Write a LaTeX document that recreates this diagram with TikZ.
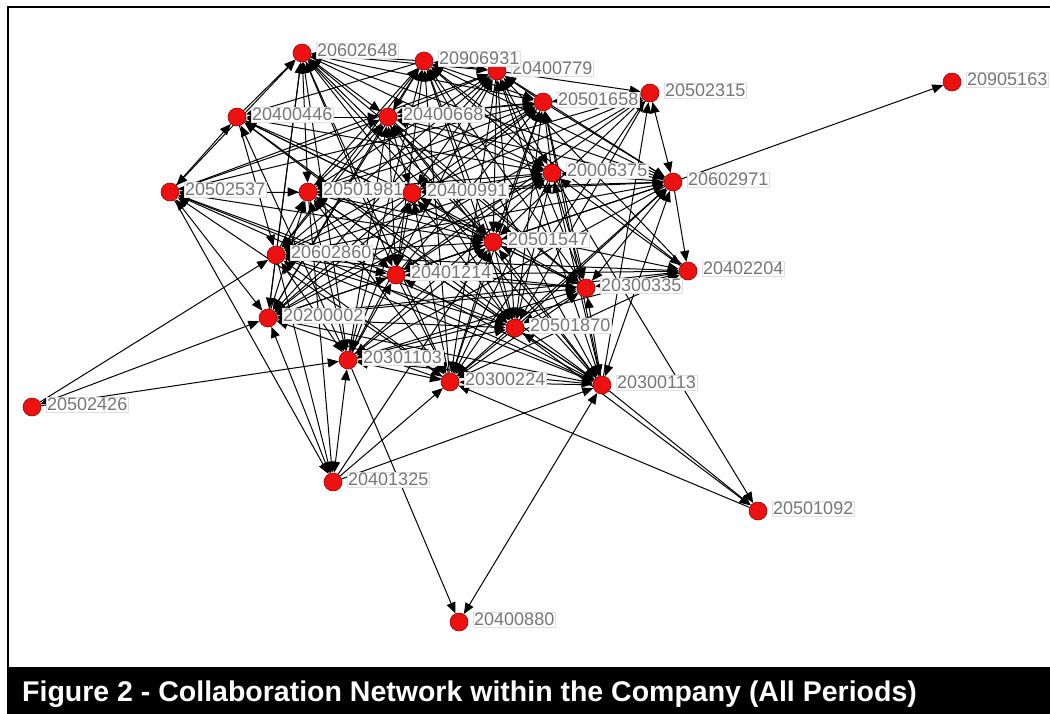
\documentclass[tikz,border=0pt]{standalone}
\usepackage{fontspec}
\setmainfont{Liberation Sans}
\usetikzlibrary{arrows.meta}
\pgfdeclarelayer{bglayer}
\pgfdeclarelayer{edgelayer}
\pgfsetlayers{bglayer,edgelayer,main}
\definecolor{nodered}{RGB}{236,18,18}
\definecolor{nodeedge}{RGB}{150,0,0}
\definecolor{labelgray}{RGB}{118,118,118}
% 1 marks the sparsely tied vertices of the core (index 0 unused)
\def\perarr{{0,0,0,0,0,1,1,0,1,0,0,0,0,0,0,0,1,0,0,0,0,0,0}}
\begin{document}
\begin{tikzpicture}[x=1pt,y=-1pt,
  >={Triangle[length=11pt,width=9pt]},
  vtx/.style={circle, fill=nodered, draw=nodeedge, line width=0.6pt,
    minimum size=18pt, inner sep=0pt},
  lbl/.style={fill=white, draw=black!12, line width=0.4pt, inner sep=1.2pt,
    text=labelgray, font=\fontsize{18}{18}\selectfont,
    label distance=4.5pt, yshift=2.5pt},
  tie/.style={draw=black, line width=1pt}]
\useasboundingbox (0,0) rectangle (1050,713);
\begin{pgfonlayer}{bglayer}
\fill[white] (0,0) rectangle (1050,713);
\end{pgfonlayer}

% frame and caption bar
\draw[line width=2.6pt] (8,713) -- (8,7) -- (1052,7);
\fill[black] (7,667) rectangle (1052,714);
\node[anchor=base west, text=white, inner sep=0pt,
  font=\fontsize{28.5}{30}\selectfont\bfseries] (cap) at (22,701)
  {Figure 2 - Collaboration Network within the Company (All Periods)};

% core vertices
\node[vtx, label={[lbl]0:20400779}] (c3) at (497,71) {};
\node[vtx, label={[lbl]0:20602648}] (c1) at (302,53) {};
\node[vtx, label={[lbl]0:20906931}] (c2) at (424,61) {};
\node[vtx, label={[lbl]0:20501658}] (c4) at (543,102) {};
\node[vtx, label={[lbl]0:20502315}] (c5) at (650,93) {};
\node[vtx, label={[lbl]0:20400446}] (c6) at (237,117) {};
\node[vtx, label={[lbl]0:20400668}] (c7) at (388,117) {};
\node[vtx, label={[lbl]0:20502537}] (c8) at (170,192) {};
\node[vtx, label={[lbl]0:20501981}] (c9) at (308,192) {};
\node[vtx, label={[lbl]0:20400991}] (c10) at (412,193) {};
\node[vtx, label={[lbl]0:20006375}] (c11) at (552,173) {};
\node[vtx, label={[lbl]0:20602971}] (c12) at (673,182) {};
\node[vtx, label={[lbl]0:20501547}] (c13) at (493,242) {};
\node[vtx, label={[lbl]0:20602860}] (c14) at (276,255) {};
\node[vtx, label={[lbl]0:20401214}] (c15) at (396,275) {};
\node[vtx, label={[lbl]0:20402204}] (c16) at (688,271) {};
\node[vtx, label={[lbl]0:20300335}] (c17) at (586,288) {};
\node[vtx, label={[lbl]0:20200002}] (c18) at (268,318) {};
\node[vtx, label={[lbl]0:20501870}] (c19) at (515,328) {};
\node[vtx, label={[lbl]0:20301103}] (c20) at (348,360) {};
\node[vtx, label={[lbl]0:20300224}] (c21) at (450,382) {};
\node[vtx, label={[lbl]0:20300113}] (c22) at (602,385) {};

% outlying vertices
\node[vtx, label={[lbl]0:20905163}] (o1) at (952,82) {};
\node[vtx, label={[lbl]0:20502426}] (o2) at (32,407) {};
\node[vtx, label={[lbl]0:20401325}] (o3) at (333,482) {};
\node[vtx, label={[lbl]0:20501092}] (o4) at (758,511) {};
\node[vtx, label={[lbl]0:20400880}] (o5) at (459,622) {};

\begin{pgfonlayer}{edgelayer}
% ties among the core vertices
\foreach \i in {1,...,21}{
  \pgfmathtruncatemacro\js{\i+1}
  \foreach \j in {\js,...,22}{
    \pgfmathtruncatemacro\pa{\perarr[\i]}
    \pgfmathtruncatemacro\pb{\perarr[\j]}
    \pgfmathtruncatemacro\ps{\pa+\pb}
    \pgfmathtruncatemacro\ma{mod(3*\i+5*\j,7)}
    \pgfmathtruncatemacro\mb{mod(\i+\j,2)}
    \pgfmathtruncatemacro\mc{mod(\i+2*\j,3)}
    \pgfmathtruncatemacro\cut{((\ma==0) && (\mb==0)) || (\ps==2) || ((\ps==1) && (\mc==0))}
    \ifnum\cut=0
      \pgfmathtruncatemacro\d{mod(7*\i+3*\j,4)}
      \ifcase\d
        \draw[tie,->] (c\i) -- (c\j);
      \or
        \draw[tie,<-] (c\i) -- (c\j);
      \else
        \draw[tie,<->] (c\i) -- (c\j);
      \fi
    \fi
  }
}
\draw[tie,->] (c8) -- (c6);
% ties to the outlying vertices
\draw[tie,->] (c12) -- (o1);
\draw[tie,->] (o2) -- (c14);
\draw[tie,<->] (o2) -- (c18);
\draw[tie,->] (o2) -- (c20);
\draw[tie,<->] (o3) -- (c18);
\draw[tie,<->] (o3) -- (c20);
\draw[tie,->] (o3) -- (c21);
\draw[tie,->] (o3) -- (c22);
\draw[tie,->] (o3) -- (c13);
\draw[tie,->] (c14) -- (o3);
\draw[tie,->] (c8) -- (o3);
\draw[tie,->] (c9) -- (o3);
\draw[tie,->] (c11) -- (o4);
\draw[tie,->] (c19) -- (o4);
\draw[tie,->] (c22) -- (o4);
\draw[tie,->] (o4) -- (c21);
\draw[tie,->] (c20) -- (o5);
\draw[tie,<->] (c22) -- (o5);
\end{pgfonlayer}
\end{tikzpicture}
\end{document}
